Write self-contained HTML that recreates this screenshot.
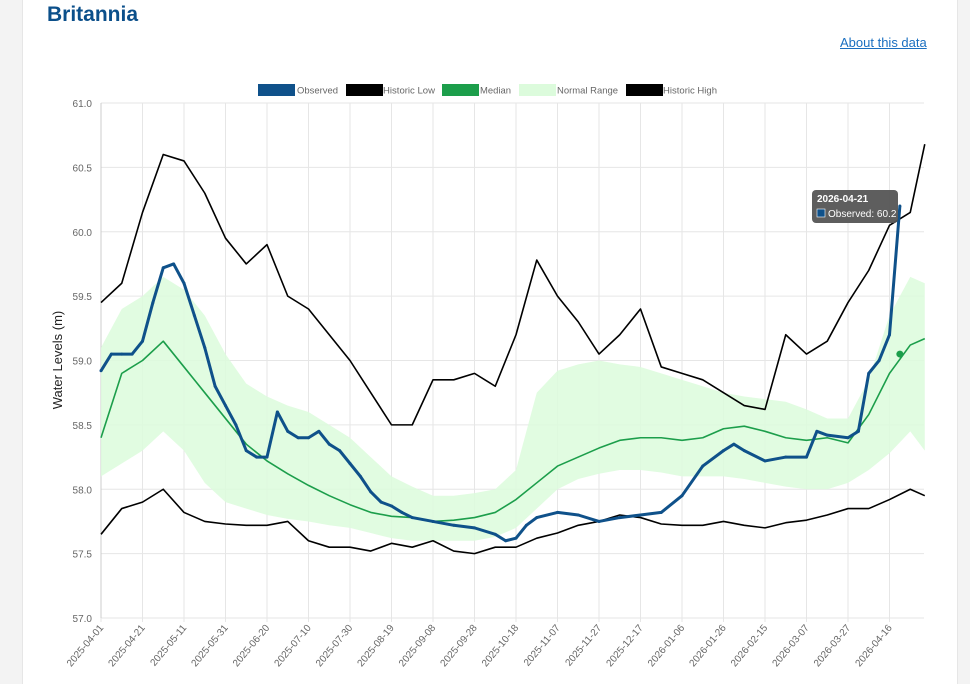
<!DOCTYPE html>
<html><head><meta charset="utf-8">
<style>
body{margin:0;width:970px;height:684px;background:#f3f3f3;font-family:"Liberation Sans",sans-serif;overflow:hidden;position:relative}
#card{position:absolute;left:22px;top:0;width:934px;height:684px;background:#fff;border-left:1px solid #e6e6e6;border-right:1px solid #e6e6e6}
h1{position:absolute;left:47px;top:3px;margin:0;font-size:21px;font-weight:bold;color:#0b4f8a}
a{position:absolute;left:840px;top:35px;font-size:13px;color:#1a6fc0;text-decoration:underline}
svg{position:absolute;left:0;top:0}
</style></head><body>
<div id="card"></div>
<h1>Britannia</h1>
<a>About this data</a>
<svg id="chart" width="970" height="684"></svg>
<script>
const gridDays=[0,10,20,30,40,50,60,70,80,90,100,110,120,130,140,150,160,170,180,190,200,210,220,230,240,250,260,270,280,290,300,310,320,330,340,350,360,370,380,390,397];
const historicHigh=[59.45,59.6,60.15,60.6,60.55,60.3,59.95,59.75,59.9,59.5,59.4,59.2,59.0,58.75,58.5,58.5,58.85,58.85,58.9,58.8,59.2,59.78,59.5,59.3,59.05,59.2,59.4,58.95,58.9,58.85,58.75,58.65,58.62,59.2,59.05,59.15,59.45,59.7,60.05,60.15,60.68];
const median=[58.4,58.9,59.0,59.15,58.95,58.75,58.55,58.35,58.22,58.12,58.03,57.95,57.88,57.82,57.79,57.78,57.75,57.76,57.78,57.82,57.92,58.05,58.18,58.25,58.32,58.38,58.4,58.4,58.38,58.4,58.47,58.49,58.45,58.4,58.38,58.4,58.36,58.58,58.9,59.12,59.17];
const rangeUpper=[59.1,59.4,59.5,59.65,59.55,59.35,59.05,58.82,58.72,58.65,58.6,58.5,58.4,58.25,58.1,58.02,57.95,57.95,57.97,58.0,58.15,58.75,58.92,58.97,59.0,58.97,58.95,58.9,58.85,58.8,58.75,58.72,58.7,58.68,58.62,58.55,58.55,58.85,59.35,59.65,59.6];
const rangeLower=[58.1,58.2,58.3,58.45,58.3,58.05,57.9,57.85,57.8,57.77,57.75,57.72,57.7,57.66,57.62,57.6,57.6,57.6,57.6,57.63,57.7,57.85,58.0,58.08,58.12,58.15,58.15,58.13,58.1,58.1,58.1,58.08,58.05,58.02,58.0,58.0,58.05,58.15,58.28,58.45,58.3];
const historicLow=[57.65,57.85,57.9,58.0,57.82,57.75,57.73,57.72,57.72,57.75,57.6,57.55,57.55,57.52,57.58,57.55,57.6,57.52,57.5,57.55,57.55,57.62,57.66,57.72,57.75,57.8,57.78,57.73,57.72,57.72,57.75,57.72,57.7,57.74,57.76,57.8,57.85,57.85,57.92,58.0,57.95];
const obsDays=[0,5,10,15,20,25,30,35,40,45,50,55,60,65,70,75,80,85,90,95,100,105,110,115,120,125,130,135,140,145,150,160,170,180,190,195,200,205,210,220,230,240,250,260,270,280,290,300,305,310,320,330,340,345,350,360,365,370,375,380,385];
const observed=[58.92,59.05,59.05,59.05,59.15,59.45,59.72,59.75,59.6,59.35,59.1,58.8,58.65,58.5,58.3,58.25,58.25,58.6,58.45,58.4,58.4,58.45,58.35,58.3,58.2,58.1,57.98,57.9,57.87,57.82,57.78,57.75,57.72,57.7,57.65,57.6,57.62,57.72,57.78,57.82,57.8,57.75,57.78,57.8,57.82,57.95,58.18,58.3,58.35,58.3,58.22,58.25,58.25,58.45,58.42,58.4,58.45,58.9,59.0,59.2,60.2];
const yTicks=[57.0,57.5,58.0,58.5,59.0,59.5,60.0,60.5,61.0];
const xTickLabels=["2025-04-01","2025-04-21","2025-05-11","2025-05-31","2025-06-20","2025-07-10","2025-07-30","2025-08-19","2025-09-08","2025-09-28","2025-10-18","2025-11-07","2025-11-27","2025-12-17","2026-01-06","2026-01-26","2026-02-15","2026-03-07","2026-03-27","2026-04-16"];
const tipLabel="2026-04-21", tipValue=60.2;

const NS="http://www.w3.org/2000/svg", svg=document.getElementById('chart');
const L=101,R=924,T=103,B=618;
const xs=d=>L+d*2.075, ys=v=>B-(v-57)/4*(B-T);
function el(t,a,p){const e=document.createElementNS(NS,t);for(const k in a)e.setAttribute(k,a[k]);(p||svg).appendChild(e);return e;}
yTicks.forEach((v,i)=>{const g=el('line',{x1:L,x2:R,y1:ys(v),y2:ys(v),stroke:'#e6e6e6'});


const t=el('text',{x:92,y:ys(v)+4,'text-anchor':'end','font-size':10,fill:'#666'});t.textContent=v.toFixed(1);

});
xTickLabels.forEach((s,i)=>{const x=xs(i*20);const g=el('line',{x1:x,x2:x,y1:T,y2:B+4,stroke:'#e6e6e6'});


const t=el('text',{x:x+3,y:B+10,'text-anchor':'end','font-size':10,fill:'#666',transform:`rotate(-50 ${x+3} ${B+10})`});t.textContent=s;

});
el('line',{x1:L,x2:L,y1:T,y2:B,stroke:'#ccc'});
const yt=el('text',{x:62,y:360,'text-anchor':'middle','font-size':13,fill:'#222',transform:'rotate(-90 62 360)'});yt.textContent='Water Levels (m)';


let p=gridDays.map((d,i)=>`${xs(d)},${ys(rangeUpper[i])}`).concat(gridDays.slice().reverse().map((d,j)=>{const i=gridDays.length-1-j;return `${xs(d)},${ys(rangeLower[i])}`;}));
const band=el('polygon',{points:p.join(' '),fill:'#dcfbdc',opacity:0.85});


function line(days,vals,col,w,name){const pl=el('polyline',{points:days.map((d,i)=>`${xs(d)},${ys(vals[i])}`).join(' '),fill:'none',stroke:col,'stroke-width':w,'stroke-linejoin':'round'});

}
line(gridDays,historicHigh,'#000',1.6,'historic-high-line');
line(gridDays,historicLow,'#000',1.6,'historic-low-line');
line(gridDays,median,'#1c9e4b',1.6,'median-line');
line(obsDays,observed,'#0f518a',3,'observed-line');
obsDays.forEach((d,i)=>{const c=el('circle',{cx:xs(d),cy:ys(observed[i]),r:1.5,fill:'#0f518a'});

});
const md=el('circle',{cx:xs(385),cy:ys(59.05),r:3.5,fill:'#1c9e4b'});


const tg=el('g',{});

el('rect',{x:812,y:190,width:86,height:33,rx:4,fill:'#555',opacity:0.95},tg);
const t1=el('text',{x:817,y:202,'font-size':10,'font-weight':'bold',fill:'#fff'},tg);t1.textContent=tipLabel;
el('rect',{x:817,y:209,width:8,height:8,fill:'#0f518a',stroke:'#fff','stroke-width':0.6},tg);
const t2=el('text',{x:828,y:217,'font-size':10,fill:'#fff'},tg);t2.textContent='Observed: '+tipValue;
const leg=[['Observed','#0f518a',258,297,41],['Historic Low','#000',346,383,52],['Median','#1c9e4b',442,480,31],['Normal Range','#dcfbdc',519,557,61],['Historic High','#000',626,663,54]];
leg.forEach(([n,c,x,tx,tw])=>{const g=el('g',{});

el('rect',{x:x,y:84,width:37,height:12,fill:c},g);
const t=el('text',{x:tx,y:93.5,'font-size':9.5,fill:'#666',textLength:tw,lengthAdjust:'spacingAndGlyphs'},g);t.textContent=n;});
</script>
</body></html>
